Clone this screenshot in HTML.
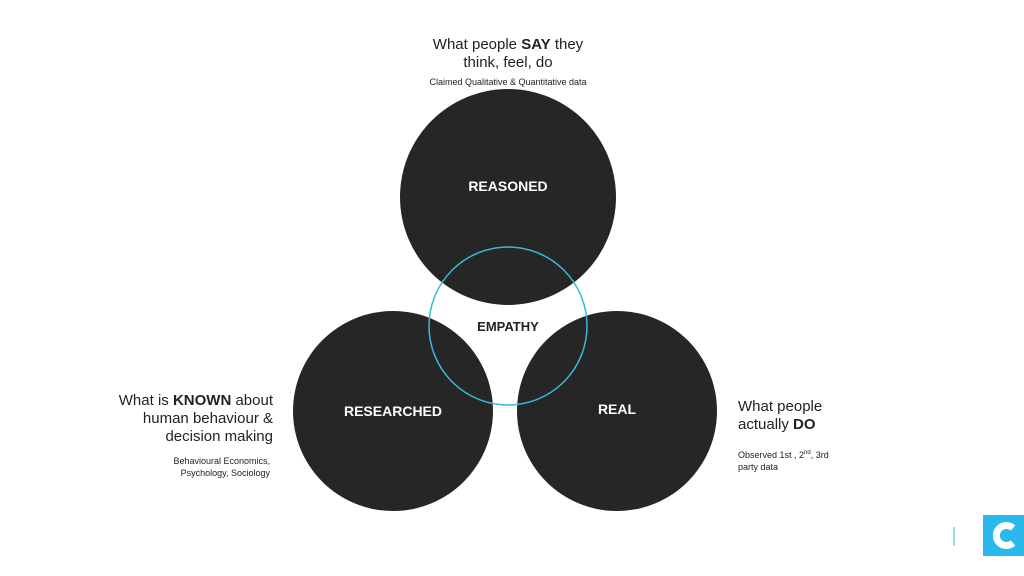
<!DOCTYPE html>
<html><head><style>
body{margin:0;width:1024px;height:576px;background:#fff;position:relative;overflow:hidden;font-family:"Liberation Sans",sans-serif;color:#222}
.t{position:absolute;white-space:nowrap}
</style></head><body>
<svg width="1024" height="576" style="position:absolute;left:0;top:0">
<circle cx="508" cy="197" r="108" fill="#262626"/>
<circle cx="393" cy="411" r="100" fill="#262626"/>
<circle cx="617" cy="411" r="100" fill="#262626"/>
<circle cx="508" cy="326" r="79" fill="none" stroke="#3ab8d8" stroke-width="1.5"/>
<text x="508" y="191" fill="#fff" font-size="14" font-weight="bold" text-anchor="middle" font-family="Liberation Sans">REASONED</text>
<text x="393" y="416" fill="#fff" font-size="14" font-weight="bold" text-anchor="middle" font-family="Liberation Sans">RESEARCHED</text>
<text x="617" y="414" fill="#fff" font-size="14" font-weight="bold" text-anchor="middle" font-family="Liberation Sans">REAL</text>
<text x="508" y="331" fill="#222" font-size="13" font-weight="bold" text-anchor="middle" font-family="Liberation Sans">EMPATHY</text>
<rect x="953" y="527" width="2" height="19" fill="#9fd8ec"/>
<rect x="983" y="515" width="41" height="41" fill="#2bb8ec"/>
<path d="M1013 528 A10 10 0 1 0 1013 543" stroke="#fff" stroke-width="7" fill="none"/>
</svg>
<div class="t" style="left:408px;top:36px;width:200px;text-align:center;font-size:15px;line-height:18px">What people <b>SAY</b> they<br>think, feel, do</div>
<div class="t" style="left:398px;top:77px;width:220px;text-align:center;font-size:9px">Claimed Qualitative &amp; Quantitative data</div>
<div class="t" style="left:90px;top:392px;width:183px;text-align:right;font-size:15px;line-height:18px">What is <b>KNOWN</b> about<br>human behaviour &amp;<br>decision making</div>
<div class="t" style="left:120px;top:455px;width:150px;text-align:right;font-size:9px;line-height:12px">Behavioural Economics,<br>Psychology, Sociology</div>
<div class="t" style="left:738px;top:398px;font-size:15px;line-height:18px">What people<br>actually <b>DO</b></div>
<div class="t" style="left:738px;top:447px;font-size:9px;line-height:12px">Observed 1st , 2<sup style="font-size:6px">nd</sup>, 3rd<br>party data</div>
</body></html>
